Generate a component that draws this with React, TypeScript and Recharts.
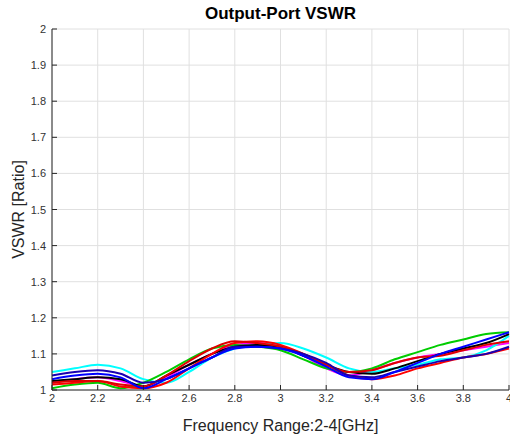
import React from 'react';
import { LineChart, Line, XAxis, YAxis, CartesianGrid, Label } from 'recharts';

const freq = [2.0, 2.1, 2.2, 2.3, 2.4, 2.5, 2.6, 2.7, 2.8, 2.9, 3.0, 3.1, 3.2, 3.3, 3.4, 3.5, 3.6, 3.7, 3.8, 3.9, 4.0];

const cyan = [1.05, 1.06, 1.07, 1.06, 1.03, 1.02, 1.05, 1.09, 1.115, 1.125, 1.13, 1.115, 1.09, 1.06, 1.05, 1.06, 1.07, 1.085, 1.09, 1.11, 1.15];
const navy = [1.04, 1.05, 1.055, 1.045, 1.02, 1.03, 1.06, 1.09, 1.12, 1.12, 1.115, 1.1, 1.075, 1.04, 1.035, 1.05, 1.065, 1.08, 1.09, 1.1, 1.12];
const black = [1.025, 1.03, 1.035, 1.03, 1.01, 1.04, 1.07, 1.1, 1.12, 1.125, 1.12, 1.095, 1.07, 1.05, 1.045, 1.06, 1.08, 1.1, 1.115, 1.13, 1.155];
const blue = [1.03, 1.04, 1.045, 1.035, 1.005, 1.03, 1.06, 1.09, 1.115, 1.12, 1.115, 1.095, 1.065, 1.035, 1.03, 1.05, 1.075, 1.1, 1.12, 1.14, 1.16];
const red = [1.02, 1.025, 1.025, 1.015, 1.01, 1.04, 1.08, 1.115, 1.135, 1.13, 1.12, 1.1, 1.07, 1.05, 1.055, 1.075, 1.09, 1.095, 1.11, 1.125, 1.135];
const red2 = [1.015, 1.02, 1.025, 1.01, 1.005, 1.02, 1.06, 1.1, 1.13, 1.135, 1.125, 1.1, 1.07, 1.04, 1.03, 1.04, 1.06, 1.075, 1.09, 1.1, 1.115];
const green = [1.005, 1.015, 1.02, 1.005, 1.02, 1.05, 1.085, 1.115, 1.125, 1.12, 1.11, 1.085, 1.06, 1.05, 1.06, 1.085, 1.105, 1.125, 1.14, 1.155, 1.16];
const magenta = [1.02, 1.03, 1.035, 1.025, 1.01, 1.035, 1.07, 1.1, 1.125, 1.13, 1.12, 1.095, 1.06, 1.04, 1.055, 1.075, 1.09, 1.1, 1.11, 1.12, 1.13];

const xTicks = [2, 2.2, 2.4, 2.6, 2.8, 3, 3.2, 3.4, 3.6, 3.8, 4];
const yTicks = [1, 1.1, 1.2, 1.3, 1.4, 1.5, 1.6, 1.7, 1.8, 1.9, 2];

const series = [
  { key: 'magenta', data: magenta, color: '#ff00ff' },
  { key: 'cyan', data: cyan, color: '#00ffff' },
  { key: 'green', data: green, color: '#00cc00' },
  { key: 'black', data: black, color: '#000000' },
  { key: 'red2', data: red2, color: '#ff0000' },
  { key: 'red', data: red, color: '#e00000' },
  { key: 'navy', data: navy, color: '#1a00b0' },
  { key: 'blue', data: blue, color: '#0000ff' },
];

const rows = freq.map((f, i) => {
  const row: Record<string, number> = { f };
  series.forEach((s) => { row[s.key] = s.data[i]; });
  return row;
});

const FONT = '"Liberation Sans", Arial, sans-serif';
const AXIS = '#262626';
const M = 6;
const fmt = (v: number) => String(Math.round(v * 10) / 10);

const BottomTick = (p: any) => (
  <g>
    <line x1={p.x} x2={p.x} y1={p.y - M} y2={p.y - M - 5} stroke={AXIS} />
    <text x={p.x} y={p.y + 6} textAnchor="middle" fontSize={11} fill="#333" fontFamily={FONT}>{fmt(p.payload.value)}</text>
  </g>
);
const TopTick = (p: any) => (
  <line x1={p.x} x2={p.x} y1={p.y + M} y2={p.y + M + 5} stroke={AXIS} />
);
const LeftTick = (p: any) => (
  <g>
    <line x1={p.x + M} x2={p.x + M + 5} y1={p.y} y2={p.y} stroke={AXIS} />
    <text x={p.x} y={p.y + 4} textAnchor="end" fontSize={11} fill="#333" fontFamily={FONT}>{fmt(p.payload.value)}</text>
  </g>
);
const RightTick = (p: any) => (
  <line x1={p.x - M} x2={p.x - M - 5} y1={p.y} y2={p.y} stroke={AXIS} />
);

export default function App() {
  return (
    <div style={{ position: 'absolute', left: 0, top: 0, width: 510, height: 436, background: '#fff' }}>
      <div style={{ position: 'absolute', left: 0, width: 561, top: 4, textAlign: 'center', fontFamily: FONT, fontWeight: 'bold', fontSize: 17, color: '#000' }}>
        Output-Port VSWR
      </div>
      <LineChart width={510} height={436} data={rows} margin={{ top: 29, right: 1, bottom: 0, left: 0 }}>
        <CartesianGrid xAxisId="b" yAxisId="l" stroke="#e0e0e0" vertical horizontal />
        <XAxis xAxisId="b" dataKey="f" type="number" domain={[2, 4]} ticks={xTicks} height={46}
          stroke={AXIS} tickSize={0} tickMargin={M} tick={<BottomTick />} interval={0}>
          <Label value="Frequency Range:2-4[GHz]" position="insideBottom" offset={5} style={{ fontFamily: FONT, fontSize: 16, fill: '#262626' }} />
        </XAxis>
        <XAxis xAxisId="t" orientation="top" dataKey="f" type="number" domain={[2, 4]} ticks={xTicks} height={0}
          stroke={AXIS} tickSize={0} tickMargin={M} tick={<TopTick />} interval={0} />
        <YAxis yAxisId="l" type="number" domain={[1, 2]} ticks={yTicks} width={52} allowDataOverflow
          stroke={AXIS} tickSize={0} tickMargin={M} tick={<LeftTick />} interval={0}>
          <Label value="VSWR [Ratio]" angle={-90} position="insideLeft" offset={18} style={{ fontFamily: FONT, fontSize: 16, fill: '#262626', textAnchor: 'middle' }} />
        </YAxis>
        <YAxis yAxisId="r" orientation="right" type="number" domain={[1, 2]} ticks={yTicks} width={0}
          stroke={AXIS} tickSize={0} tickMargin={M} tick={<RightTick />} interval={0} />
        {series.map((s) => (
          <Line key={s.key} xAxisId="b" yAxisId="l" type="monotone" dataKey={s.key} stroke={s.color}
            strokeWidth={2} dot={false} isAnimationActive={false} />
        ))}
      </LineChart>
    </div>
  );
}
